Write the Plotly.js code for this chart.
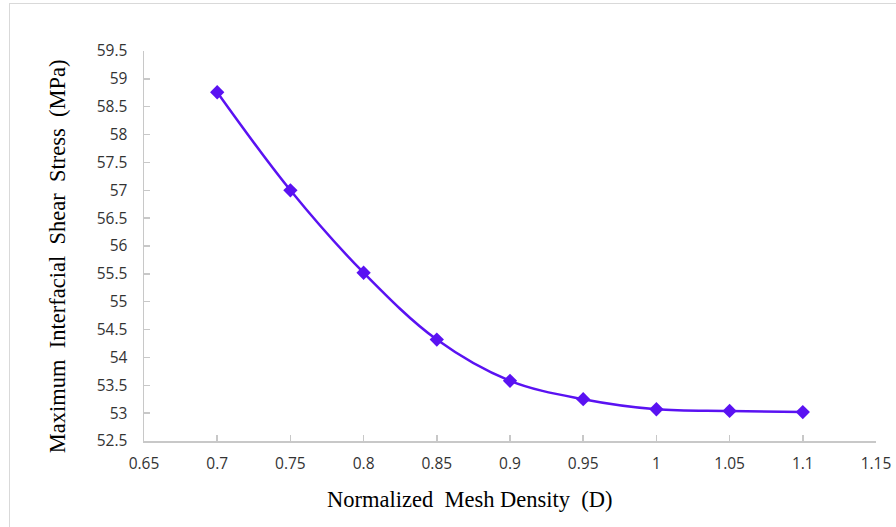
<!DOCTYPE html>
<html>
<head>
<meta charset="utf-8">
<script src="https://cdn.plot.ly/plotly-3.0.1.min.js"></script>
<style>
html,body{margin:0;padding:0;background:#fff;}
#wrap{position:relative;width:896px;height:527px;overflow:hidden;}
#chart{position:absolute;left:0;top:0;width:896px;height:527px;}
#frame{position:absolute;left:9px;top:3px;width:900px;height:540px;border:1.5px solid #d9d9d9;pointer-events:none;}
</style>
</head>
<body>
<div id="wrap"><div id="chart"></div><div id="frame"></div></div>
<script>
const meshDensity = [0.7, 0.75, 0.8, 0.85, 0.9, 0.95, 1.0, 1.05, 1.1];
const shearStress = [58.76, 57.0, 55.52, 54.32, 53.58, 53.25, 53.07, 53.04, 53.02];
const xTickVals = [0.65, 0.7, 0.75, 0.8, 0.85, 0.9, 0.95, 1.0, 1.05, 1.1, 1.15];
const xTickText = ["0.65","0.7","0.75","0.8","0.85","0.9","0.95","1","1.05","1.1","1.15"];
const yTickVals = [52.5,53,53.5,54,54.5,55,55.5,56,56.5,57,57.5,58,58.5,59,59.5];
const yTickText = ["52.5","53","53.5","54","54.5","55","55.5","56","56.5","57","57.5","58","58.5","59","59.5"];
const xTitle = "Normalized&nbsp; Mesh Density&nbsp; (D)";
const yTitle = "Maximum&nbsp; Interfacial&nbsp; Shear&nbsp; Stress&nbsp; (MPa)";

const trace = {
  x: meshDensity, y: shearStress, type: 'scatter', mode: 'lines+markers',
  line: {color: '#5a12f2', width: 2.5, shape: 'spline', smoothing: 1},
  marker: {symbol: 'diamond', size: 11, color: '#5a12f2'},
  hoverinfo: 'x+y'
};
const tickFont = {family: 'Open Sans, Lato, sans-serif', size: 15.5, color: '#333333'};
const layout = {
  width: 896, height: 527,
  margin: {l: 144, r: 20, t: 51, b: 86},
  paper_bgcolor: '#fff', plot_bgcolor: '#fff',
  showlegend: false,
  xaxis: {
    range: [0.65, 1.15], tickmode: 'array', tickvals: xTickVals, ticktext: xTickText,
    showgrid: false, zeroline: false, showline: true, linecolor: '#c8c8c8', linewidth: 1.5,
    ticks: 'inside', ticklen: 6, tickcolor: '#c8c8c8', tickwidth: 1.5,
    tickfont: tickFont, ticklabelstandoff: 8, fixedrange: true
  },
  yaxis: {
    range: [52.5, 59.5], tickmode: 'array', tickvals: yTickVals, ticktext: yTickText,
    showgrid: false, zeroline: false, showline: true, linecolor: '#c8c8c8', linewidth: 1.5,
    ticks: 'inside', ticklen: 6, tickcolor: '#c8c8c8', tickwidth: 1.5,
    tickfont: tickFont, ticklabelstandoff: 12, fixedrange: true
  },
  annotations: [
    {text: xTitle, xref: 'paper', yref: 'paper', x: (470-144)/732, y: -(500-441)/390.3,
     xanchor: 'center', yanchor: 'middle', showarrow: false,
     font: {family: 'Liberation Serif, Times New Roman, serif', size: 22.5, color: '#000'}},
    {text: yTitle, xref: 'paper', yref: 'paper', x: -(144-57)/732, y: (441-256)/390.3,
     xanchor: 'center', yanchor: 'middle', showarrow: false, textangle: -90,
     font: {family: 'Liberation Serif, Times New Roman, serif', size: 22.5, color: '#000'}}
  ]
};
Plotly.newPlot('chart', [trace], layout, {displayModeBar: false, staticPlot: true});
</script>
</body>
</html>
